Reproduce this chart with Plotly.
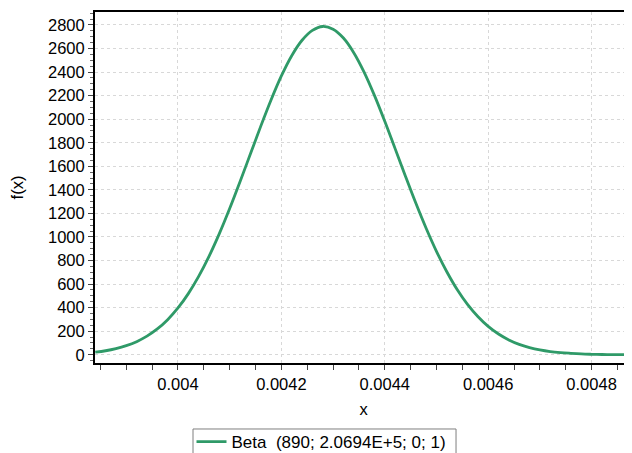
import plotly.graph_objects as go

x_values = [0.00384, 0.00386, 0.00388, 0.00390, 0.00392, 0.00394, 0.00396, 0.00398,
            0.00400, 0.00402, 0.00404, 0.00406, 0.00408, 0.00410, 0.00412, 0.00414,
            0.00416, 0.00418, 0.00420, 0.00422, 0.00424, 0.00426, 0.00428, 0.00430,
            0.00432, 0.00434, 0.00436, 0.00438, 0.00440, 0.00442, 0.00444, 0.00446,
            0.00448, 0.00450, 0.00452, 0.00454, 0.00456, 0.00458, 0.00460, 0.00462,
            0.00464, 0.00466, 0.00468, 0.00470, 0.00472, 0.00474, 0.00476, 0.00478,
            0.00480, 0.00482, 0.00484, 0.00486, 0.00488, 0.00490]
fx_values = [22, 34, 52, 77, 111, 158, 219, 298,
             397, 519, 665, 835, 1028, 1241, 1469, 1704,
             1939, 2163, 2367, 2539, 2670, 2754, 2787, 2764,
             2689, 2565, 2400, 2202, 1982, 1750, 1516, 1288,
             1074, 878, 705, 554, 428, 325, 241, 176,
             126, 88, 61, 41, 27, 18, 12, 7,
             4, 2, 1, 1, 0, 0]

series_name = "Beta  (890; 2.0694E+5; 0; 1)"
x_tick_vals = [0.004, 0.0042, 0.0044, 0.0046, 0.0048]
x_tick_text = ["0.004", "0.0042", "0.0044", "0.0046", "0.0048"]
y_tick_vals = [0, 200, 400, 600, 800, 1000, 1200, 1400, 1600, 1800, 2000, 2200, 2400, 2600, 2800]

FONT = "Liberation Sans, Arial, sans-serif"
FS = 16.5

fig = go.Figure()
fig.add_trace(go.Scatter(
    x=x_values, y=fx_values, mode="lines", name=series_name,
    line=dict(color="#2f9a68", width=2.8, shape="spline"),
    showlegend=True,
))

fig.update_layout(
    width=624, height=445,
    margin=dict(l=87, r=0, t=4, b=90, autoexpand=False),
    paper_bgcolor="white", plot_bgcolor="white",
    font=dict(family=FONT, size=FS, color="black"),
    showlegend=True,
    legend=dict(
        orientation="h",
        xref="container", yref="container",
        x=0.5024, xanchor="center",
        y=0.0652, yanchor="top",
        borderwidth=0,
        bgcolor="rgba(0,0,0,0)",
        font=dict(family=FONT, size=17, color="black"),
        itemwidth=30,
    ),
    shapes=[dict(
        type="rect", xref="paper", yref="paper",
        x0=0.1825, x1=0.6723, y0=-0.27, y1=-0.188,
        line=dict(color="#7f7f7f", width=1), fillcolor="rgba(0,0,0,0)",
        layer="above",
    )],
)

fig.update_xaxes(
    range=[0.0038395, 0.0048782],
    tickmode="array", tickvals=x_tick_vals, ticktext=x_tick_text,
    ticks="outside", ticklen=5, tickwidth=1, tickcolor="#444444",
    showline=True, linecolor="black", linewidth=2, mirror=True,
    showgrid=True, gridcolor="#d8d8d8", griddash="dot", gridwidth=1,
    zeroline=False, automargin=False,
    minor=dict(dtick=0.00005, tick0=0.004, ticks="outside", ticklen=5,
               tickcolor="#444444", showgrid=False),
    title=dict(text="x", standoff=12, font=dict(family=FONT, size=FS)),
    tickfont=dict(family=FONT, size=FS),
)

fig.update_yaxes(
    range=[-70, 2910],
    tickmode="array", tickvals=y_tick_vals,
    ticks="outside", ticklen=5, tickwidth=1, tickcolor="#444444",
    showline=True, linecolor="black", linewidth=2, mirror=False,
    showgrid=True, gridcolor="#d8d8d8", griddash="dot", gridwidth=1,
    zeroline=False, automargin=False,
    minor=dict(dtick=50, tick0=0, ticks="outside", ticklen=3,
               tickcolor="#666666", showgrid=False),
    title=dict(text="f(x)", standoff=20, font=dict(family=FONT, size=FS)),
    tickfont=dict(family=FONT, size=FS),
)

fig.write_html("out.html")
